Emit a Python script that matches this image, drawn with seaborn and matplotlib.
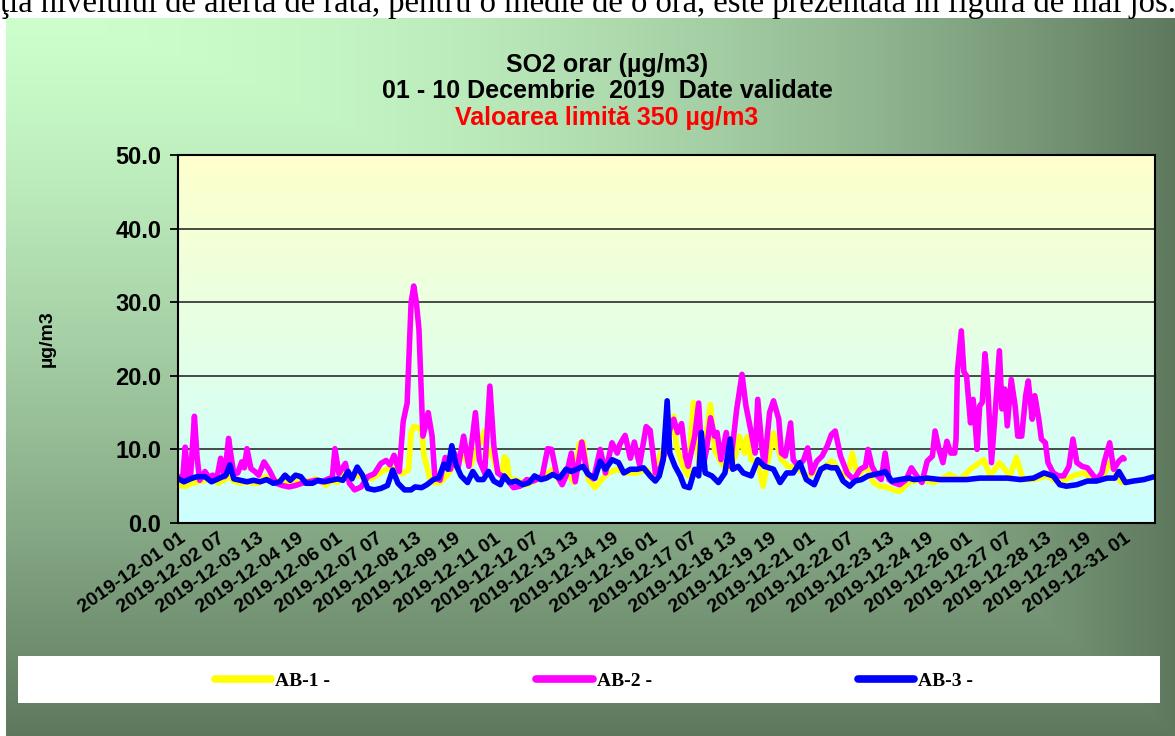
import numpy as np
import pandas as pd
import matplotlib
matplotlib.use("Agg")
import matplotlib.pyplot as plt
import seaborn as sns
from matplotlib.lines import Line2D
from matplotlib.patches import Rectangle

# ---------------- data (hours since 2019-12-01 01:00) ----------------
ab1_hours = [0, 5, 10, 15, 20, 25, 30, 35, 38, 42, 47, 52, 57, 61, 66, 70, 74, 80, 84, 90,
             94, 100, 104, 110, 112, 117, 121, 125, 132, 140, 147, 155, 162, 170, 175, 177, 179, 182, 185, 187,
             190, 192, 199, 204, 209, 214, 217, 222, 227, 231, 233, 235, 238, 242, 246, 248, 250, 252, 257, 265,
             273, 280, 285, 290, 296, 301, 305, 308, 312, 317, 322, 327, 334, 341, 349, 356, 362, 367, 371, 375,
             377, 379, 384, 388, 392, 396, 400, 405, 408, 413, 418, 424, 427, 431, 433, 436, 441, 445, 449, 453,
             455, 459, 464, 468, 472, 476, 479, 483, 487, 497, 499, 503, 506, 509, 513, 517, 523, 529, 534, 539,
             544, 549, 556, 565, 575, 587, 595, 603, 606, 613, 618, 625, 633, 638, 643, 651, 661, 671, 681, 689,
             697, 704, 709, 714, 718, 720]
ab1_vals = [5.1, 5.0, 5.4, 5.6, 5.8, 6.0, 5.4, 5.9, 6.3, 5.7, 5.4, 5.6, 5.4, 5.4, 6.3, 6.0, 5.8, 5.5, 5.6, 5.6,
            5.8, 5.7, 6.0, 5.5, 5.1, 5.8, 5.5, 6.7, 6.5, 6.3, 6.0, 7.0, 7.6, 6.7, 7.2, 12.2, 13.1, 13.0, 12.5, 9.0,
            7.0, 5.5, 5.5, 6.4, 7.7, 8.5, 9.1, 7.7, 10.0, 11.4, 12.5, 9.1, 10.0, 7.3, 6.4, 9.0, 8.5, 5.9, 5.9, 5.2,
            5.9, 6.6, 7.3, 5.7, 6.8, 5.5, 10.8, 11.1, 5.9, 4.8, 5.9, 6.8, 7.3, 6.8, 6.8, 7.3, 5.9, 9.5, 10.5, 12.3,
            14.5, 10.5, 7.7, 6.4, 16.4, 8.2, 9.5, 16.1, 10.0, 8.2, 7.3, 9.1, 11.8, 9.5, 11.7, 8.6, 8.2, 5.0, 8.6, 12.2,
            10.9, 8.6, 7.7, 7.6, 7.3, 6.7, 6.4, 6.8, 6.8, 8.4, 8.2, 6.8, 6.8, 6.4, 9.5, 6.3, 7.8, 5.5, 5.0, 4.9,
            4.5, 4.3, 5.5, 5.9, 5.5, 6.6, 5.9, 7.3, 7.7, 8.6, 6.4, 8.2, 6.4, 8.9, 5.9, 5.9, 6.4, 5.5, 6.4, 6.8,
            5.9, 6.4, 8.2, 6.8, 5.5, 5.8]

ab2_hours = [0, 3, 5, 7, 9, 12, 14, 16, 20, 23, 26, 29, 32, 35, 38, 40, 42, 45, 48, 50,
             52, 55, 58, 61, 65, 69, 74, 79, 84, 89, 94, 99, 104, 109, 114, 117, 119, 122, 127, 130,
             134, 139, 144, 149, 154, 158, 161, 164, 168, 171, 174, 177, 179, 181, 183, 186, 188, 190, 193, 195,
             199, 203, 207, 210, 213, 217, 221, 226, 229, 233, 237, 240, 243, 246, 250, 255, 260, 265, 270, 275,
             277, 281, 284, 288, 292, 295, 299, 302, 307, 311, 316, 321, 325, 330, 334, 336, 340, 344, 347, 351,
             356, 359, 363, 367, 371, 374, 377, 380, 383, 386, 388, 393, 396, 399, 402, 405, 408, 410, 413, 417,
             420, 425, 429, 432, 436, 439, 441, 444, 446, 450, 453, 457, 459, 462, 466, 468, 472, 476, 479, 482,
             486, 490, 494, 497, 500, 504, 509, 514, 519, 523, 525, 528, 532, 535, 538, 541, 544, 549, 554, 558,
             562, 566, 570, 574, 576, 579, 582, 585, 588, 591, 592, 593, 596, 598, 600, 603, 605, 606, 608, 610,
             612, 614, 616, 619, 622, 625, 627, 629, 631, 634, 637, 639, 642, 645, 647, 650, 652, 655, 657, 660,
             662, 666, 670, 674, 678, 681, 684, 688, 692, 695, 699, 703, 705, 709, 712, 716, 719, 720]
ab2_vals = [6.3, 6.0, 10.3, 6.0, 6.2, 14.5, 9.0, 5.8, 7.0, 6.2, 6.5, 6.0, 8.8, 6.3, 11.5, 9.0, 6.7, 6.8, 8.3, 7.5,
            10.1, 7.4, 7.0, 6.5, 8.3, 7.2, 5.4, 5.1, 4.9, 5.1, 5.4, 5.6, 5.8, 5.6, 6.0, 6.2, 10.1, 6.7, 8.1, 5.4,
            4.5, 4.9, 6.3, 6.7, 8.1, 8.5, 7.9, 9.2, 7.0, 13.8, 16.3, 29.9, 32.2, 30.0, 26.3, 11.8, 13.2, 15.0, 11.8, 6.5,
            5.8, 8.9, 7.3, 9.5, 7.7, 11.8, 7.7, 15.0, 8.5, 6.8, 18.6, 10.5, 6.8, 6.4, 5.9, 4.8, 5.0, 5.9, 5.7, 6.1,
            6.5, 10.1, 10.0, 6.5, 5.2, 6.4, 9.5, 5.6, 11.0, 6.8, 6.0, 10.0, 6.8, 10.9, 9.5, 10.7, 11.9, 8.8, 11.0, 7.9,
            13.1, 12.6, 6.8, 7.5, 10.0, 12.7, 14.1, 12.3, 13.5, 9.0, 7.7, 11.8, 16.3, 7.3, 10.0, 14.3, 11.8, 12.3, 8.6, 12.3,
            7.7, 15.5, 20.2, 15.9, 12.3, 9.5, 16.8, 10.5, 7.7, 15.0, 16.6, 14.1, 9.5, 9.1, 13.6, 8.6, 7.7, 8.6, 10.2, 6.8,
            8.4, 9.1, 10.5, 12.0, 12.5, 9.1, 6.8, 5.9, 7.3, 7.7, 10.0, 7.7, 6.4, 5.9, 9.5, 5.9, 5.5, 5.2, 5.9, 7.5,
            6.4, 5.5, 8.4, 9.1, 12.5, 10.0, 8.2, 11.1, 9.5, 9.5, 11.4, 20.5, 26.1, 20.5, 20.0, 13.6, 16.8, 15.0, 10.0, 15.9,
            16.4, 23.0, 19.1, 8.2, 15.5, 23.4, 15.5, 18.2, 13.2, 19.5, 15.9, 11.8, 11.8, 17.3, 19.3, 14.1, 17.3, 14.1, 11.4, 10.9,
            8.2, 6.8, 6.4, 6.4, 7.7, 11.4, 8.2, 7.7, 7.5, 6.8, 5.9, 6.8, 8.4, 10.9, 7.3, 8.4, 8.9, 8.7]

ab3_hours = [0, 4, 9, 14, 20, 25, 30, 36, 39, 42, 47, 52, 57, 62, 67, 72, 77, 81, 85, 89,
             93, 97, 102, 106, 111, 116, 121, 125, 129, 132, 136, 140, 144, 149, 154, 159, 163, 167, 172, 177,
             180, 185, 189, 194, 198, 202, 205, 208, 211, 215, 220, 224, 228, 232, 236, 240, 245, 248, 252, 257,
             262, 267, 271, 276, 280, 285, 290, 295, 299, 303, 308, 312, 317, 321, 325, 330, 335, 339, 344, 349,
             354, 359, 363, 366, 369, 372, 374, 378, 382, 385, 389, 393, 396, 398, 401, 406, 411, 416, 420, 422,
             426, 430, 436, 441, 446, 453, 458, 463, 468, 473, 478, 484, 489, 493, 497, 501, 506, 511, 515, 520,
             525, 530, 535, 538, 543, 549, 556, 560, 570, 580, 590, 600, 610, 620, 631, 641, 651, 659, 666, 671,
             676, 684, 692, 699, 707, 713, 716, 721, 727, 735, 743]
ab3_vals = [6.0, 5.6, 6.0, 6.3, 6.3, 5.6, 6.0, 6.5, 7.9, 6.0, 5.8, 5.6, 5.8, 5.6, 5.9, 5.4, 5.6, 6.5, 5.8, 6.5,
            6.3, 5.4, 5.4, 5.8, 5.6, 5.8, 6.0, 5.8, 7.0, 6.0, 7.6, 6.5, 4.7, 4.5, 4.7, 5.1, 7.2, 5.4, 4.5, 4.5,
            4.9, 4.8, 5.2, 5.9, 6.1, 8.0, 7.3, 10.5, 8.0, 6.4, 5.5, 7.0, 5.9, 5.9, 7.0, 5.7, 5.2, 6.4, 5.5, 5.7,
            5.2, 5.5, 6.4, 5.9, 6.1, 6.6, 6.1, 7.3, 7.0, 7.3, 7.7, 6.6, 6.1, 8.4, 7.3, 8.6, 8.2, 6.8, 7.3, 7.3,
            7.5, 6.4, 5.7, 6.4, 8.6, 16.6, 9.5, 7.7, 6.4, 5.0, 4.8, 7.3, 6.4, 12.3, 6.8, 6.4, 5.5, 6.8, 11.4, 7.3,
            7.7, 6.8, 6.4, 8.6, 7.7, 7.3, 5.5, 6.8, 6.8, 8.2, 5.9, 5.2, 7.3, 7.7, 7.5, 7.5, 5.7, 5.0, 5.7, 5.9,
            6.4, 6.6, 6.8, 7.0, 5.7, 5.9, 6.1, 5.9, 6.1, 5.9, 5.9, 5.9, 6.1, 6.1, 6.1, 5.9, 6.1, 6.8, 6.4, 5.2,
            5.0, 5.2, 5.7, 5.7, 6.1, 6.1, 7.0, 5.5, 5.7, 5.9, 6.3]

stations = ["AB-1 -", "AB-2 -", "AB-3 -"]
line_colors = ["#FFFF00", "#FF00FF", "#0000FF"]

tick_hours = list(range(0, 721, 30))
tick_labels = ["2019-12-01 01", "2019-12-02 07", "2019-12-03 13", "2019-12-04 19", "2019-12-06 01",
               "2019-12-07 07", "2019-12-08 13", "2019-12-09 19", "2019-12-11 01", "2019-12-12 07",
               "2019-12-13 13", "2019-12-14 19", "2019-12-16 01", "2019-12-17 07", "2019-12-18 13",
               "2019-12-19 19", "2019-12-21 01", "2019-12-22 07", "2019-12-23 13", "2019-12-24 19",
               "2019-12-26 01", "2019-12-27 07", "2019-12-28 13", "2019-12-29 19", "2019-12-31 01"]
y_ticks = [0, 10, 20, 30, 40, 50]

title1 = "SO2 orar (µg/m3)"
title2 = "01 - 10 Decembrie  2019  Date validate"
title3 = "Valoarea limită 350 µg/m3"
y_label = "µg/m3"
top_text = "ţia nivelului de alertă de rată, pentru o medie de o oră, este prezentată în figura de mai jos."

df = pd.concat([
    pd.DataFrame({"hour": ab1_hours, "value": ab1_vals, "station": stations[0]}),
    pd.DataFrame({"hour": ab2_hours, "value": ab2_vals, "station": stations[1]}),
    pd.DataFrame({"hour": ab3_hours, "value": ab3_vals, "station": stations[2]}),
], ignore_index=True)

plt.rcParams["font.family"] = ["Liberation Sans", "DejaVu Sans"]

W, H = 1175, 736
fig = plt.figure(figsize=(W / 100, H / 100), dpi=100)

# ---- background (chart area gradient) ----
yy, xx = np.mgrid[0:H, 0:W].astype(float)
X = np.clip((xx - 6) / (W - 6), 0, 1)
Y = np.clip((yy - 18) / (H - 18), 0, 1)
t = np.maximum(X ** 2, Y ** 1.3)
light = np.array([204, 255, 204]) / 255.0
dark = np.array([94, 120, 94]) / 255.0
img = light[None, None, :] + t[..., None] * (dark - light)[None, None, :]
white = (xx < 6) | (yy < 18)
img[white] = 1.0
bg = fig.add_axes([0, 0, 1, 1], zorder=-10)
bg.imshow(img, aspect="auto", interpolation="bilinear")
bg.axis("off")

fig.text(0.0, 1 - 12 / H, top_text, family=["Liberation Serif", "DejaVu Serif"], fontsize=23.5,
         va="baseline", ha="left", color="black", zorder=-5)

# ---- main axes ----
L, R, T, B = 178, 1155, 155, 523
ax = fig.add_axes([L / W, 1 - B / H, (R - L) / W, (B - T) / H], zorder=1)
ax.set_facecolor("none")
grad = np.linspace(0, 1, 256)[:, None]
top_c = np.array([255, 255, 204]) / 255.0
bot_c = np.array([204, 255, 255]) / 255.0
face = top_c[None, None, :] + grad[..., None] * (bot_c - top_c)[None, None, :]
ax.imshow(face, extent=(-0.5, 743.5, 0, 50), aspect="auto", zorder=-1, interpolation="bilinear")

sns.lineplot(data=df, x="hour", y="value", hue="station", hue_order=stations, palette=line_colors,
             linewidth=4.0, estimator=None, sort=False, legend=False, ax=ax)
for ln in ax.lines:
    ln.set_solid_joinstyle("round")
    ln.set_solid_capstyle("round")

ax.set_xlim(-0.5, 743.5)
ax.set_ylim(0, 50)
ax.set_yticks(y_ticks)
ax.set_yticklabels([f"{v:.1f}" for v in y_ticks], fontsize=17, fontweight="bold")
ax.set_xticks(tick_hours)
ax.set_xticklabels(tick_labels, rotation=35, ha="right", va="top", rotation_mode="anchor",
                   fontsize=14, fontweight="bold")
ax.tick_params(axis="y", length=6, width=1.3, pad=6, color="black")
ax.tick_params(axis="x", length=0, pad=5)
ax.yaxis.grid(True, color="#3c3c3c", linewidth=1.3)
ax.xaxis.grid(False)
ax.set_axisbelow(True)
for sp in ax.spines.values():
    sp.set_color("black")
    sp.set_linewidth(1.5)
ax.set_xlabel("")
ax.set_ylabel(y_label, fontsize=14, fontweight="bold")
ax.yaxis.set_label_coords((56 - L) / (R - L), 0.5)

# ---- titles ----
cx = 607 / W
fig.text(cx, 1 - 65 / H, title1, ha="center", va="center", fontsize=18, fontweight="bold")
fig.text(cx, 1 - 91 / H, title2, ha="center", va="center", fontsize=18, fontweight="bold")
fig.text(cx, 1 - 118 / H, title3, ha="center", va="center", fontsize=18, fontweight="bold", color="#FF0000")

# ---- legend ----
fig.patches.append(Rectangle((18 / W, 1 - 703 / H), (1160 - 18) / W, 47 / H, transform=fig.transFigure,
                             facecolor="white", edgecolor="none", zorder=2))
handles = [Line2D([], [], color=c, linewidth=5.5, solid_capstyle="round") for c in line_colors]
leg = fig.legend(handles, stations, loc="center", bbox_to_anchor=(594 / W, 1 - 681 / H), ncol=3,
                 frameon=False, handlelength=2.9, handletextpad=0.2, columnspacing=10.6,
                 prop={"family": ["Liberation Serif", "DejaVu Serif"], "weight": "bold", "size": 14})
leg.set_zorder(3)

fig.savefig("out.png", dpi=100)
